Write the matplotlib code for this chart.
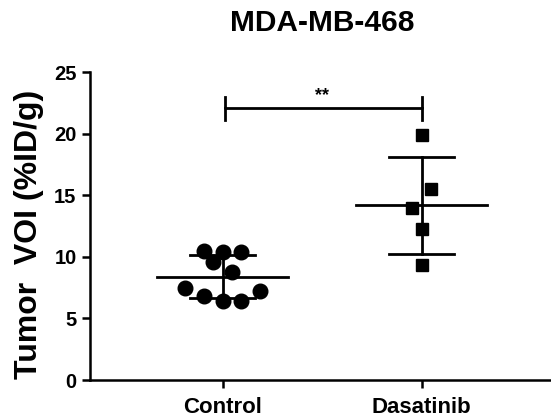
import matplotlib
matplotlib.use('Agg')
import matplotlib.pyplot as plt
import numpy as np

plt.rcParams['font.family'] = ['Liberation Sans', 'DejaVu Sans']
plt.rcParams['font.weight'] = 'bold'

groups = ["Control", "Dasatinib"]
control = [10.5, 10.4, 10.4, 9.6, 8.8, 7.5, 7.2, 6.8, 6.4, 6.4]
dasatinib = [19.9, 15.5, 14.0, 12.3, 9.3]
# scatter jitter (in category units)
control_jit = [-0.095, 0, 0.092, -0.047, 0.047, -0.188, 0.188, -0.092, 0, 0.092]
dasatinib_jit = [0, 0.047, -0.047, 0, 0]
sig_y = 22.1
sig_text = "**"

fig = plt.figure(figsize=(5.51, 4.19), dpi=100)
ax = fig.add_axes([0.163, 0.093, 0.837, 0.735])

for i, (vals, jit, marker, ms) in enumerate([(control, control_jit, 'o', 10.5),
                                               (dasatinib, dasatinib_jit, 's', 9)]):
		vals = np.array(vals)
		m = vals.mean()
		sd = vals.std(ddof=1)
		ax.plot([i - 0.33, i + 0.33], [m, m], color='black', lw=2, zorder=2)
		ax.plot([i, i], [m - sd, m + sd], color='black', lw=2, zorder=2)
		ax.plot([i - 0.165, i + 0.165], [m + sd, m + sd], color='black', lw=2, zorder=2)
		ax.plot([i - 0.165, i + 0.165], [m - sd, m - sd], color='black', lw=2, zorder=2)
		ax.plot(np.array(jit) + i, vals, linestyle='none', marker=marker,
		        color='black', markersize=ms, zorder=3)

# significance bracket
ax.plot([0.01, 0.01, 1, 1], [23.0, sig_y, sig_y, 23.0], color='black', lw=2, clip_on=False)
ax.plot([0.01, 0.01], [sig_y, 21.1], color='black', lw=2)
ax.plot([1, 1], [sig_y, 21.1], color='black', lw=2)
ax.text(0.5, sig_y + 0.3, sig_text, ha='center', va='bottom', fontsize=13)

ax.set_xlim(-0.667, 1.65)
ax.set_ylim(0, 25)
ax.set_xticks([0, 1])
ax.set_xticklabels(groups, fontsize=16, fontweight='bold')
ax.set_yticks([0, 5, 10, 15, 20, 25])
ax.set_yticklabels(['0', '5', '10', '15', '20', '25'], fontsize=14.5, fontweight='bold')
ax.spines['top'].set_visible(False)
ax.spines['right'].set_visible(False)
for s in ['left', 'bottom']:
		ax.spines[s].set_linewidth(1.8)
ax.tick_params(width=1.8, length=6, direction='out')
ax.tick_params(axis='x', pad=6)
ax.set_ylabel('Tumor  VOI (%ID/g)', fontsize=23, fontweight='bold')
ax.yaxis.set_label_coords(-0.1, 0.474)
fig.text(0.584, 0.945, 'MDA-MB-468', ha='center', va='center', fontsize=21.5, fontweight='bold')

fig.savefig('out.png', dpi=100)
